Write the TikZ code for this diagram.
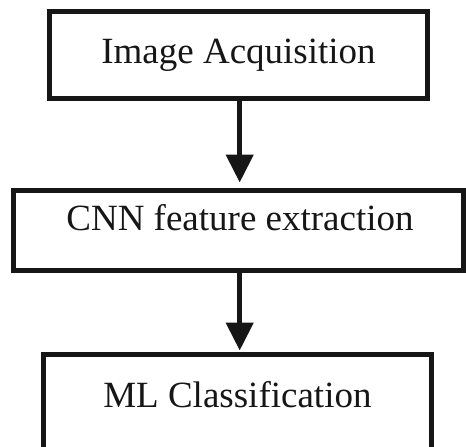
\documentclass[tikz,border=0pt]{standalone}
\usepackage{fontspec}
\setmainfont{Liberation Serif}
\usetikzlibrary{arrows.meta}
\definecolor{ink}{HTML}{161616}
\tikzset{
  stagebox/.style={draw=ink, line width=5pt, rectangle, inner sep=0pt, fill=none},
  stagetext/.style={text=ink, inner sep=0pt, anchor=base, font=\fontsize{37}{44}\selectfont},
  flow/.style={draw=ink, line width=4.7pt, -{Triangle[length=28pt,width=27pt]}}
}
\begin{document}
\begin{tikzpicture}[x=1pt,y=-1pt]
  \clip (0,0) rectangle (466,447);
  \fill[white] (0,0) rectangle (466,447);

  % the three processing stages
  \node[stagebox, minimum width=378pt, minimum height=87pt] (b1) at (238.4,55.4) {};
  \node[stagebox, minimum width=450pt, minimum height=80pt] (b2) at (238.5,230) {};
  \node[stagebox, minimum width=387.5pt, minimum height=110pt] (b3) at (237.3,409) {};

  \node[stagetext] (t1) at (238.5,63.3) {Image Acquisition};
  \node[stagetext] (t2) at (240,230.7) {CNN feature extraction};
  \node[stagetext] (t3) at (237.4,407.3) {ML Classification};

  % connectors between the stages
  \draw[flow, shorten >=5pt] (b1.south -| 239.7,0) -- (b2.north -| 239.7,0);
  \draw[flow, shorten >=1pt] (b2.south -| 239.7,0) -- (b3.north -| 239.7,0);
\end{tikzpicture}
\end{document}
